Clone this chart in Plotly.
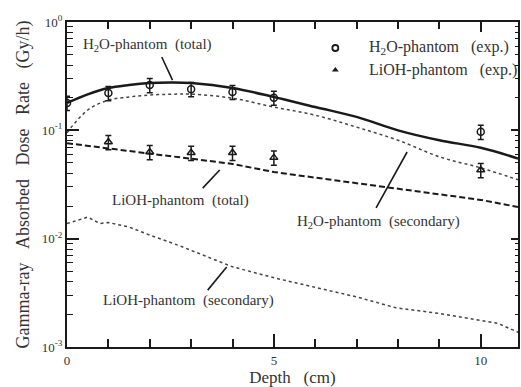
import math
import plotly.graph_objects as go

# ---- data ----
depth = [0, 0.5, 1, 1.5, 2, 2.5, 3, 4, 5, 6, 7, 8, 9, 10, 10.9]
h2o_total = [0.179, 0.215, 0.246, 0.262, 0.273, 0.276, 0.273, 0.246, 0.203, 0.164, 0.133, 0.100, 0.081, 0.069, 0.055]
h2o_secondary = [0.095, 0.154, 0.190, 0.203, 0.212, 0.215, 0.216, 0.198, 0.164, 0.138, 0.107, 0.081, 0.057, 0.045, 0.035]
lioh_total = [0.076, 0.072, 0.068, 0.064, 0.0606, 0.058, 0.055, 0.049, 0.0412, 0.0366, 0.0325, 0.0288, 0.0256, 0.0228, 0.0196]

lioh_sec_depth = [0, 0.3, 0.5, 0.8, 1.0, 1.5, 2, 2.72, 3, 3.86, 4, 5.06, 6, 7, 7.95, 9, 10, 10.4, 10.9]
lioh_secondary = [0.0138, 0.0150, 0.0158, 0.0138, 0.0141, 0.0128, 0.0108, 0.0086, 0.0078, 0.0057, 0.0055,
                  0.0043, 0.00356, 0.0029, 0.0023, 0.00204, 0.00176, 0.00166, 0.00137]

exp_h2o_depth = [0, 1, 2, 3, 4, 5, 10]
exp_h2o = [0.179, 0.221, 0.262, 0.240, 0.226, 0.200, 0.097]
exp_lioh_depth = [1, 2, 3, 4, 5, 10]
exp_lioh = [0.078, 0.063, 0.062, 0.062, 0.056, 0.043]
err_pct = 15

y_tickvals = [0.001, 0.01, 0.1, 1]
y_ticktext = ["10<sup>-3</sup>", "10<sup>-2</sup>", "10<sup>-1</sup>", "10<sup>0</sup>"]
x_tickvals = [0, 5, 10]

# curve labels: text, label centre (depth, value), leader line from (depth, value) to (depth, value)
label_text = ["H<sub>2</sub>O-phantom  (total)", "LiOH-phantom  (total)",
              "H<sub>2</sub>O-phantom  (secondary)", "LiOH-phantom  (secondary)"]
label_x = [1.95, 2.75, 7.52, 2.94]
label_y = [0.614, 0.0227, 0.0142, 0.00271]
leader_x0 = [2.29, 3.28, 7.47, 3.40]
leader_y0 = [0.475, 0.0293, 0.0192, 0.00335]
leader_x1 = [2.55, 3.69, 8.22, 3.86]
leader_y1 = [0.291, 0.0430, 0.0631, 0.00547]

legend_text = ["H<sub>2</sub>O-phantom\u00a0\u00a0\u00a0(exp.)", "LiOH-phantom\u00a0\u00a0\u00a0(exp.)"]

INK = "#1a1a1a"
TXT = "#333333"
FONT = "Liberation Serif"
NB = "\u00a0"

fig = go.Figure()
fig.add_trace(go.Scatter(x=depth, y=h2o_secondary, mode="lines", line=dict(color="#444", width=1.5, dash="dot"),
                         line_shape="spline", showlegend=False))
fig.add_trace(go.Scatter(x=lioh_sec_depth, y=lioh_secondary, mode="lines",
                         line=dict(color="#444", width=1.5, dash="dot"), showlegend=False))
fig.add_trace(go.Scatter(x=depth, y=lioh_total, mode="lines", line=dict(color=INK, width=2, dash="6px,3px"),
                         showlegend=False))
fig.add_trace(go.Scatter(x=depth, y=h2o_total, mode="lines", line=dict(color=INK, width=2.5),
                         line_shape="spline", showlegend=False))
fig.add_trace(go.Scatter(x=exp_h2o_depth, y=exp_h2o, mode="markers",
                         marker=dict(symbol="circle-open", size=7, color=INK, line=dict(width=1.5)),
                         error_y=dict(type="percent", value=err_pct, color=INK, thickness=1.5, width=3),
                         showlegend=False))
fig.add_trace(go.Scatter(x=exp_lioh_depth, y=exp_lioh, mode="markers",
                         marker=dict(symbol="triangle-up-open", size=7, color=INK, line=dict(width=1.5)),
                         error_y=dict(type="percent", value=err_pct, color=INK, thickness=1.5, width=3),
                         showlegend=False))

# leader lines
for i in range(len(label_text)):
    fig.add_trace(go.Scatter(x=[leader_x0[i], leader_x1[i]], y=[leader_y0[i], leader_y1[i]], mode="lines",
                             line=dict(color=INK, width=1.6), showlegend=False))

# curve labels
for i, t in enumerate(label_text):
    fig.add_annotation(x=label_x[i], y=math.log10(label_y[i]), xref="x", yref="y", text=t, showarrow=False,
                       font=dict(family=FONT, size=15, color=TXT), xanchor="center", yanchor="middle")

# legend drawn manually in paper coordinates
fig.add_trace(go.Scatter(x=[0.595], y=[0.92], xaxis="x2", yaxis="y2", mode="markers",
                         marker=dict(symbol="circle-open", size=6, color=INK, line=dict(width=1.8)), showlegend=False))
fig.add_trace(go.Scatter(x=[0.595], y=[0.852], xaxis="x2", yaxis="y2", mode="markers",
                         marker=dict(symbol="triangle-up", size=6, color=INK), showlegend=False))
for t, yy in zip(legend_text, [0.92, 0.852]):
    fig.add_annotation(xref="paper", yref="paper", x=0.665, y=yy, text=t, showarrow=False,
                       xanchor="left", yanchor="middle", font=dict(family=FONT, size=16, color=TXT))

# dummy trace for mirrored axes (top / right)
fig.add_trace(go.Scatter(x=[None], y=[None], xaxis="x3", yaxis="y3", mode="lines", showlegend=False))

ytitle = (NB * 3).join(["Gamma-ray", "Absorbed", "Dose", "Rate", "(Gy/h)"])

fig.update_layout(
    width=521, height=387,
    margin=dict(l=67, r=1, t=22, b=40),
    paper_bgcolor="white", plot_bgcolor="white",
    font=dict(family=FONT, color=TXT),
    xaxis=dict(range=[0, 10.9], tickvals=x_tickvals, ticks="inside", ticklen=13, tickwidth=1.5, tickcolor=INK,
               minor=dict(dtick=1, ticks="inside", ticklen=8, tickwidth=1.5, tickcolor=INK),
               showline=True, linecolor=INK, linewidth=2, mirror=True, showgrid=False, zeroline=False,
               tickfont=dict(family=FONT, size=13, color=TXT),
               title=dict(text="Depth" + NB * 3 + "(cm)", font=dict(family=FONT, size=17, color=TXT), standoff=6)),
    yaxis=dict(type="log", range=[-3, 0], tickvals=y_tickvals, ticktext=y_ticktext, ticks="inside", ticklen=12,
               tickwidth=1.5, tickcolor=INK,
               minor=dict(ticks="inside", ticklen=6, tickwidth=1.2, tickcolor=INK, dtick="D1"),
               showline=True, linecolor=INK, linewidth=2, mirror=True, showgrid=False, zeroline=False,
               tickfont=dict(family=FONT, size=13, color=TXT),
               title=dict(text=ytitle, font=dict(family=FONT, size=18, color=TXT), standoff=8)),
    xaxis2=dict(range=[0, 1], overlaying="x", visible=False),
    yaxis2=dict(range=[0, 1], overlaying="y", visible=False),
    xaxis3=dict(range=[0, 10.9], overlaying="x", side="top", tickvals=x_tickvals, showticklabels=False,
                ticks="inside", ticklen=10, tickwidth=1.5, tickcolor=INK,
                minor=dict(dtick=1, ticks="inside", ticklen=7, tickwidth=1.5, tickcolor=INK),
                showline=False, showgrid=False, zeroline=False),
    yaxis3=dict(type="log", range=[-3, 0], overlaying="y", side="right", tickvals=y_tickvals, showticklabels=False,
                ticks="inside", ticklen=7, tickwidth=1.5, tickcolor=INK,
                minor=dict(ticks="inside", ticklen=3, tickwidth=1.2, tickcolor=INK, dtick="D1"),
                showline=False, showgrid=False, zeroline=False),
)

fig.write_html("out.html")
